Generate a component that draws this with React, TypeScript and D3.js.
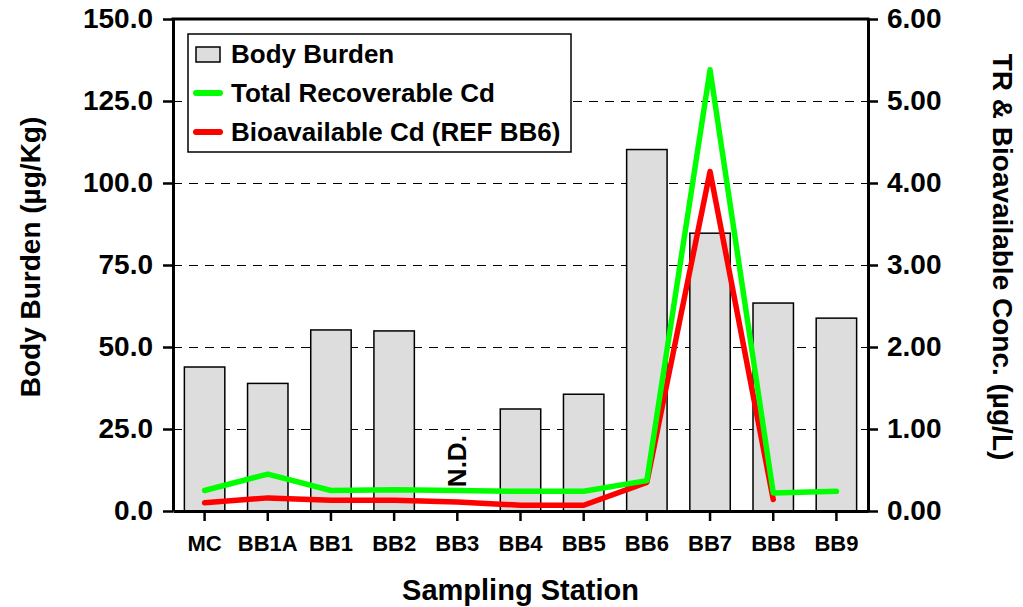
import { useEffect, useRef } from "react";
import * as d3 from "d3";

const stations = ["MC", "BB1A", "BB1", "BB2", "BB3", "BB4", "BB5", "BB6", "BB7", "BB8", "BB9"];
// body burden (µg/Kg); null = not detected
const bodyBurden: (number | null)[] = [43.9, 38.9, 55.2, 54.9, null, 31.1, 35.6, 110.2, 84.7, 63.4, 58.8];
// total recoverable Cd (µg/L)
const totalCd: (number | null)[] = [0.25, 0.45, 0.25, 0.26, 0.25, 0.24, 0.24, 0.37, 5.38, 0.22, 0.24];
// bioavailable Cd (µg/L), ref BB6
const bioCd: (number | null)[] = [0.1, 0.16, 0.13, 0.13, 0.11, 0.07, 0.07, 0.35, 4.14, 0.14, null];

const leftTicks = [0, 25, 50, 75, 100, 125, 150];
const rightTicks = [0, 1, 2, 3, 4, 5, 6];

const W = 1023;
const H = 607;
const M = { top: 19, right: 155, bottom: 96, left: 173 };
const FONT = "Arial, 'Liberation Sans', Helvetica, sans-serif";
const GREEN = "#00ff00";
const RED = "#ff0000";

export default function App() {
  const ref = useRef<SVGSVGElement>(null);

  useEffect(() => {
    if (!ref.current) return;
    const svg = d3.select(ref.current);
    svg.selectAll("*").remove();

    const x0 = M.left;
    const x1 = W - M.right;
    const y0 = H - M.bottom;
    const y1 = M.top;

    const x = d3.scaleBand<string>().domain(stations).range([x0, x1]).paddingInner(0.36).paddingOuter(0.18);
    const xc = (s: string) => (x(s) ?? 0) + x.bandwidth() / 2;
    const yL = d3.scaleLinear().domain([0, 150]).range([y0, y1]);
    const yR = d3.scaleLinear().domain([0, 6]).range([y0, y1]);

    const g = svg.append("g").attr("font-family", FONT).attr("font-weight", "bold");

    // gridlines
    g.append("g")
      .selectAll("line")
      .data(leftTicks.filter((t) => t > 0 && t < 150))
      .join("line")
      .attr("x1", x0)
      .attr("x2", x1)
      .attr("y1", (d) => Math.round(yL(d)) + 0.5)
      .attr("y2", (d) => Math.round(yL(d)) + 0.5)
      .attr("stroke", "#000")
      .attr("stroke-width", 1)
      .attr("shape-rendering", "crispEdges")
      .attr("stroke-dasharray", "9,7");

    // bars
    g.append("g")
      .selectAll("rect")
      .data(stations.map((s, i) => ({ s, v: bodyBurden[i] })).filter((d) => d.v != null))
      .join("rect")
      .attr("x", (d) => x(d.s) ?? 0)
      .attr("width", x.bandwidth())
      .attr("y", (d) => yL(d.v as number))
      .attr("height", (d) => y0 - yL(d.v as number))
      .attr("fill", "#dddddd")
      .attr("stroke", "#000")
      .attr("stroke-width", 1.5);

    // N.D. label
    g.append("text")
      .attr("transform", `translate(${xc("BB3") + 9},${yL(15.2)}) rotate(-90)`)
      .attr("text-anchor", "middle")
      .attr("font-size", 26)
      .text("N.D.");

    // lines
    const line = d3
      .line<{ s: string; v: number | null }>()
      .defined((d) => d.v != null)
      .x((d) => xc(d.s))
      .y((d) => yR(d.v as number));

    g.append("path")
      .datum(stations.map((s, i) => ({ s, v: bioCd[i] })))
      .attr("d", line)
      .attr("fill", "none")
      .attr("stroke", RED)
      .attr("stroke-width", 5.5)
      .attr("stroke-linejoin", "round")
      .attr("stroke-linecap", "round");

    g.append("path")
      .datum(stations.map((s, i) => ({ s, v: totalCd[i] })))
      .attr("d", line)
      .attr("fill", "none")
      .attr("stroke", GREEN)
      .attr("stroke-width", 5.5)
      .attr("stroke-linejoin", "round")
      .attr("stroke-linecap", "round");

    // axes
    const styleAxis = (ax: d3.Selection<SVGGElement, unknown, null, undefined>) => {
      ax.select(".domain").attr("stroke-width", 3);
      ax.selectAll(".tick line").attr("stroke-width", 2.5);
      ax.selectAll("text").attr("font-family", FONT).attr("font-weight", "bold").attr("fill", "#000");
    };

    g.append("g")
      .attr("transform", `translate(${x0},0)`)
      .call(d3.axisLeft(yL).tickValues(leftTicks).tickFormat((d) => (d as number).toFixed(1)).tickSize(10).tickSizeOuter(0).tickPadding(10))
      .call(styleAxis)
      .call((ax) => ax.selectAll("text").attr("font-size", 28));

    g.append("g")
      .attr("transform", `translate(${x1},0)`)
      .call(d3.axisRight(yR).tickValues(rightTicks).tickFormat((d) => (d as number).toFixed(2)).tickSize(10).tickSizeOuter(0).tickPadding(9))
      .call(styleAxis)
      .call((ax) => ax.selectAll("text").attr("font-size", 28));

    g.append("g")
      .attr("transform", `translate(0,${y0})`)
      .call(d3.axisBottom(x).tickSize(10).tickSizeOuter(0).tickPadding(14))
      .call(styleAxis)
      .call((ax) => ax.selectAll("text").attr("font-size", 22));

    // top border
    g.append("line")
      .attr("x1", x0 - 1.5)
      .attr("x2", x1 + 1.5)
      .attr("y1", y1)
      .attr("y2", y1)
      .attr("stroke", "#000")
      .attr("stroke-width", 3);

    // axis titles
    g.append("text")
      .attr("transform", `translate(40,${(y0 + y1) / 2 - 8}) rotate(-90)`)
      .attr("text-anchor", "middle")
      .attr("font-size", 28)
      .text("Body Burden (µg/Kg)");

    g.append("text")
      .attr("transform", `translate(993,${(y0 + y1) / 2 - 8}) rotate(90)`)
      .attr("text-anchor", "middle")
      .attr("font-size", 28)
      .text("TR & Bioavailable Conc. (µg/L)");

    g.append("text")
      .attr("x", (x0 + x1) / 2)
      .attr("y", 600)
      .attr("text-anchor", "middle")
      .attr("font-size", 29)
      .text("Sampling Station");

    // legend
    const lg = g.append("g").attr("transform", "translate(188,34)");
    lg.append("rect").attr("width", 383).attr("height", 118).attr("fill", "#fff").attr("stroke", "#000").attr("stroke-width", 1.5);
    const items = [
      { label: "Body Burden", kind: "bar", color: "#dddddd" },
      { label: "Total Recoverable Cd", kind: "line", color: GREEN },
      { label: "Bioavailable Cd (REF BB6)", kind: "line", color: RED },
    ];
    items.forEach((it, i) => {
      const cy = 20 + i * 39;
      if (it.kind === "bar") {
        lg.append("rect").attr("x", 8).attr("y", cy - 7).attr("width", 24).attr("height", 15).attr("fill", it.color).attr("stroke", "#000").attr("stroke-width", 1.5);
      } else {
        lg.append("line").attr("x1", 8).attr("x2", 32).attr("y1", cy).attr("y2", cy).attr("stroke", it.color).attr("stroke-width", 6).attr("stroke-linecap", "round");
      }
      lg.append("text").attr("x", 43).attr("y", cy + 9).attr("font-size", 26).text(it.label);
    });
  }, []);

  return (
    <svg
      ref={ref}
      width={W}
      height={H}
      style={{ position: "absolute", left: 0, top: 0, background: "#fff" }}
    />
  );
}
